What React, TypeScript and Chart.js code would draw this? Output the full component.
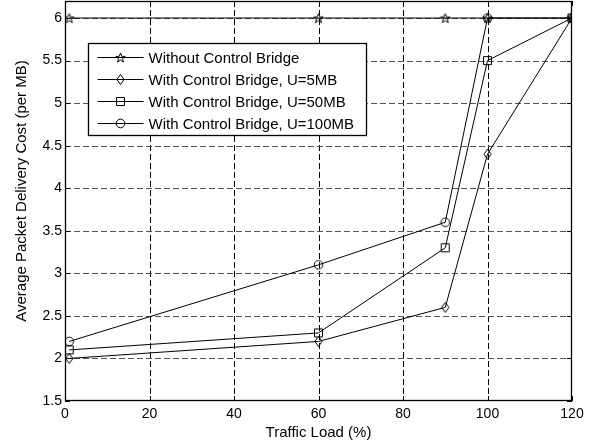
import React, { useEffect, useRef } from "react";
import { Chart, registerables } from "chart.js";

Chart.register(...registerables);

const xValues = [1, 60, 90, 100, 120];
const withoutBridge = [6, 6, 6, 6, 6];
const bridgeU5 = [2.0, 2.2, 2.6, 4.4, 6];
const bridgeU50 = [2.1, 2.3, 3.3, 5.5, 6];
const bridgeU100 = [2.2, 3.1, 3.6, 6, 6];
const seriesNames = [
  "Without Control Bridge",
  "With Control Bridge, U=5MB",
  "With Control Bridge, U=50MB",
  "With Control Bridge, U=100MB",
];
const markerKinds = ["star", "diamond", "square", "circle"];
const xTicks = [0, 20, 40, 60, 80, 100, 120];
const yTicks = [1.5, 2, 2.5, 3, 3.5, 4, 4.5, 5, 5.5, 6];
const xTitle = "Traffic Load (%)";
const yTitle = "Average Packet Delivery Cost (per MB)";

const FONT = "'Liberation Sans', Arial, sans-serif";
const SHIFT = 5;

function makeMarker(kind: string): HTMLCanvasElement {
  const s = 13;
  const cv = document.createElement("canvas");
  cv.width = s;
  cv.height = s;
  const ctx = cv.getContext("2d")!;
  ctx.strokeStyle = "#000";
  ctx.lineWidth = 1;
  const c = s / 2;
  ctx.beginPath();
  if (kind === "star") {
    const R = 5, r = 2.1;
    for (let i = 0; i < 10; i++) {
      const ang = -Math.PI / 2 + (i * Math.PI) / 5;
      const rad = i % 2 === 0 ? R : r;
      const px = c + rad * Math.cos(ang);
      const py = c + 0.5 + rad * Math.sin(ang);
      if (i === 0) ctx.moveTo(px, py);
      else ctx.lineTo(px, py);
    }
    ctx.closePath();
  } else if (kind === "diamond") {
    ctx.moveTo(c, c - 5);
    ctx.lineTo(c + 3.6, c);
    ctx.lineTo(c, c + 5);
    ctx.lineTo(c - 3.6, c);
    ctx.closePath();
  } else if (kind === "square") {
    ctx.rect(c - 4, c - 4, 8, 8);
  } else {
    ctx.arc(c, c, 4.3, 0, Math.PI * 2);
  }
  ctx.stroke();
  return cv;
}

export default function App() {
  const ref = useRef<HTMLCanvasElement | null>(null);

  useEffect(() => {
    document.body.style.margin = "0";
    const markers = markerKinds.map(makeMarker);
    const seriesValues = [withoutBridge, bridgeU5, bridgeU50, bridgeU100];

    const framePlugin = {
      id: "frame",
      beforeDatasetsDraw(chart: any) {
        const ctx = chart.ctx;
        const a = chart.chartArea;
        const xs = chart.scales.x;
        const ys = chart.scales.y;
        ctx.save();
        ctx.lineWidth = 1;
        ctx.setLineDash([6, 3]);
        ctx.strokeStyle = "#000";
        xTicks.forEach((v) => {
          if (v <= xs.min || v >= xs.max) return;
          const px = Math.round(xs.getPixelForValue(v)) + 0.5;
          ctx.beginPath();
          ctx.moveTo(px, a.top);
          ctx.lineTo(px, a.bottom);
          ctx.stroke();
        });
        ctx.strokeStyle = "#555";
        yTicks.forEach((v) => {
          if (v <= ys.min || v >= ys.max) return;
          const py = Math.round(ys.getPixelForValue(v)) + 0.5;
          ctx.beginPath();
          ctx.moveTo(a.left, py);
          ctx.lineTo(a.right, py);
          ctx.stroke();
        });
        ctx.setLineDash([]);
        ctx.strokeStyle = "#000";
        const tl = 5;
        xTicks.forEach((v) => {
          const px = Math.round(xs.getPixelForValue(v)) + 0.5;
          ctx.beginPath();
          ctx.moveTo(px, a.bottom);
          ctx.lineTo(px, a.bottom - tl);
          ctx.moveTo(px, a.top);
          ctx.lineTo(px, a.top + tl);
          ctx.stroke();
        });
        yTicks.forEach((v) => {
          const py = Math.round(ys.getPixelForValue(v)) + 0.5;
          ctx.beginPath();
          ctx.moveTo(a.left, py);
          ctx.lineTo(a.left + tl, py);
          ctx.moveTo(a.right, py);
          ctx.lineTo(a.right - tl, py);
          ctx.stroke();
        });
        const l = Math.round(a.left) + 0.5;
        const t = Math.round(a.top) + 0.5;
        const r = Math.round(a.right) - 0.5;
        const b = Math.round(a.bottom) - 0.5;
        ctx.lineWidth = 1.3;
        ctx.strokeRect(l, t, r - l, b - t);

        // y-axis title
        ctx.save();
        ctx.translate(22, a.top + 190);
        ctx.rotate(-Math.PI / 2);
        ctx.font = `15px ${FONT}`;
        ctx.fillStyle = "#000";
        ctx.textAlign = "center";
        ctx.textBaseline = "middle";
        ctx.fillText(yTitle, 0, 0);
        ctx.restore();
        ctx.restore();
      },
    };

    const legendPlugin = {
      id: "boxLegend",
      afterDraw(chart: any) {
        const ctx = chart.ctx;
        const a = chart.chartArea;
        const bx = Math.round(a.left + 23) + 0.5;
        const by = Math.round(a.top + 42) + 0.5;
        const bw = 278;
        const bh = 92;
        ctx.save();
        ctx.fillStyle = "#fff";
        ctx.fillRect(bx, by, bw, bh);
        ctx.strokeStyle = "#000";
        ctx.lineWidth = 1.3;
        ctx.strokeRect(bx, by, bw, bh);
        ctx.lineWidth = 1;
        ctx.font = `15px ${FONT}`;
        ctx.fillStyle = "#000";
        ctx.textBaseline = "middle";
        ctx.textAlign = "left";
        seriesNames.forEach((name, i) => {
          const ry = Math.round(by + 13 + i * 22) + 0.5;
          ctx.beginPath();
          ctx.moveTo(bx + 9, ry);
          ctx.lineTo(bx + 55, ry);
          ctx.stroke();
          const m = markers[i];
          ctx.drawImage(m, Math.round(bx + 32 - m.width / 2), Math.round(ry - m.height / 2));
          ctx.fillText(name, bx + 60, ry + 1);
        });
        ctx.restore();
      },
    };

    const resetPad = (s: any) => {
      s.paddingTop = 0;
      s.paddingBottom = 0;
      s.paddingLeft = 0;
      s.paddingRight = 0;
    };

    const chart = new Chart(ref.current!, {
      type: "line",
      data: {
        datasets: seriesNames.map((name, i) => ({
          label: name,
          data: xValues.map((x, j) => ({ x, y: seriesValues[i][j] })),
          borderColor: "#000",
          backgroundColor: "transparent",
          borderWidth: 1,
          pointStyle: markers[i] as any,
          pointRadius: 5,
          tension: 0,
          fill: false,
        })),
      },
      options: {
        responsive: false,
        animation: false,
        events: [],
        layout: { padding: { top: 1, right: 28, left: 0, bottom: 0 } },
        plugins: {
          legend: { display: false },
          tooltip: { enabled: false },
        },
        scales: {
          x: {
            type: "linear",
            min: 0,
            max: 120,
            grid: { display: false, drawTicks: false },
            border: { display: false },
            afterBuildTicks: (s: any) => {
              s.ticks = xTicks.map((v) => ({ value: v }));
            },
            afterFit: (s: any) => {
              s.height = 44;
              resetPad(s);
            },
            ticks: {
              color: "#000",
              padding: 5,
              maxRotation: 0,
              font: { family: FONT, size: 14 },
              callback: (v: any) => String(v),
            },
            title: {
              display: true,
              text: xTitle,
              color: "#000",
              font: { family: FONT, size: 15 },
              padding: { top: 0, bottom: 3 },
            },
          },
          y: {
            type: "linear",
            min: 1.5,
            max: 6.2,
            grid: { display: false, drawTicks: false },
            border: { display: false },
            afterBuildTicks: (s: any) => {
              s.ticks = yTicks.map((v) => ({ value: v }));
            },
            afterFit: (s: any) => {
              s.width = 65;
              resetPad(s);
            },
            ticks: {
              color: "#000",
              padding: 3,
              font: { family: FONT, size: 14 },
              callback: (v: any) => String(v),
            },
            title: { display: false },
          },
        },
      },
      plugins: [framePlugin, legendPlugin],
    });
    return () => chart.destroy();
  }, []);

  return (
    <div
      style={{
        width: 600,
        height: 445,
        background: "#fff",
        position: "relative",
        overflow: "hidden",
      }}
    >
      <canvas
        ref={ref}
        width={600}
        height={445 + SHIFT}
        style={{ position: "absolute", left: 0, top: -SHIFT }}
      />
    </div>
  );
}
